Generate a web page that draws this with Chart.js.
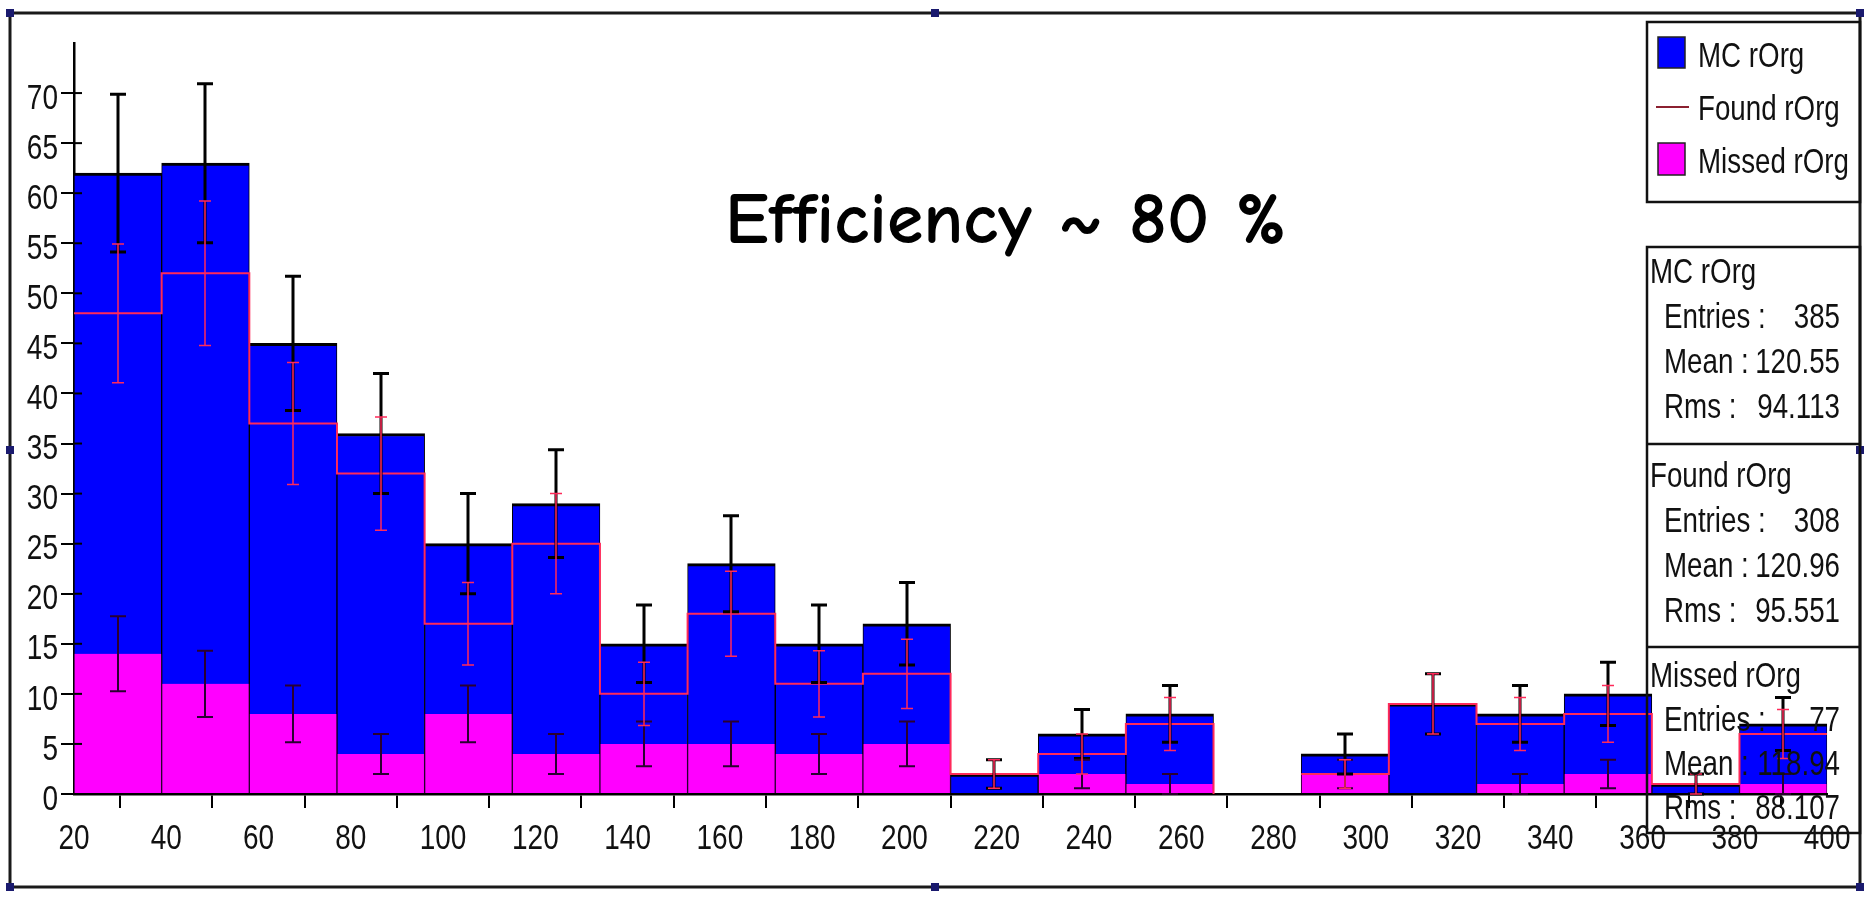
<!DOCTYPE html>
<html>
<head>
<meta charset="utf-8">
<title>rOrg</title>
<script src="https://cdn.jsdelivr.net/npm/chart.js@4.4.1/dist/chart.umd.min.js"></script>
<style>
  html, body { margin: 0; padding: 0; background: #fff; overflow: hidden; }
  canvas { display: block; }
</style>
</head>
<body>
<canvas id="histo" width="1865" height="899"></canvas>
<script>
// histogram bins: 20 bins of width 19 from 20 to 400
const binLow = [20, 39, 58, 77, 96, 115, 134, 153, 172, 191, 210, 229, 248, 267, 286, 305, 324, 343, 362, 381];
const binWidth = 19;

const mcCounts     = [62, 63, 45, 36, 25, 29, 15, 23, 15, 17, 2, 6, 8, 0, 4, 9, 8, 10, 1, 7];
const foundCounts  = [48, 52, 37, 32, 17, 25, 10, 18, 11, 12, 2, 4, 7, 0, 2, 9, 7, 8, 1, 6];
const missedCounts = [14, 11, 8, 4, 8, 4, 5, 5, 4, 5, 0, 2, 1, 0, 2, 0, 1, 2, 0, 1];

const seriesNames = ['MC rOrg', 'Found rOrg', 'Missed rOrg'];
const statEntries = ['385', '308', '77'];
const statMean    = ['120.55', '120.96', '118.94'];
const statRms     = ['94.113', '95.551', '88.107'];

const titleText = 'Efficiency ~ 80 %';

const SANS = "'Liberation Sans', Arial, sans-serif";
const BLUE = '#0000ff';
const MAGENTA = '#ff00ff';
const RED = '#ff2a5a';

// narrow text: the plain sans squeezed horizontally
function narrowText(ctx, text, x, y, align, squeeze) {
    const w = ctx.measureText(text).width * squeeze;
    let left = x;
    if (align === 'right') left = x - w;
    if (align === 'center') left = x - w / 2;
    ctx.save();
    ctx.textAlign = 'left';
    ctx.translate(left, y);
    ctx.scale(squeeze, 1);
    ctx.fillText(text, 0, 0);
    ctx.restore();
}

// white page, outer frame and the little selection handles
const framePlugin = {
    id: 'frame',
    beforeDraw(chart) {
        const ctx = chart.ctx;
        ctx.save();
        ctx.fillStyle = '#fff';
        ctx.fillRect(0, 0, chart.width, chart.height);
        ctx.restore();
    },
    afterDraw(chart) {
        const ctx = chart.ctx;
        ctx.save();
        ctx.strokeStyle = '#1a1a1a';
        ctx.lineWidth = 3;
        ctx.strokeRect(10, 13, 1850, 874);
        ctx.fillStyle = '#1a1a6e';
        const hx = [10, 935, 1860], hy = [13, 450, 887];
        hx.forEach(x => hy.forEach(y => {
            if (x === 935 && y === 450) return;
            ctx.fillRect(x - 4, y - 4, 8, 8);
        }));
        ctx.restore();
    }
};

// condensed tick labels, placed from the scales' own ticks
const tickLabelPlugin = {
    id: 'tickLabels',
    afterDraw(chart) {
        const ctx = chart.ctx;
        const xs = chart.scales.x, ys = chart.scales.y;
        ctx.save();
        ctx.fillStyle = '#111';
        ctx.font = '35px ' + SANS;
        ctx.textBaseline = 'middle';
        xs.ticks.forEach(t => {
            narrowText(ctx, String(t.value), xs.getPixelForValue(t.value), 839, 'center', 0.8);
        });
        ctx.strokeStyle = '#000';
        ctx.lineWidth = 2;
        ys.ticks.forEach(t => {
            const y = ys.getPixelForValue(t.value);
            narrowText(ctx, String(t.value), ys.right - 16, y + 6, 'right', 0.8);
            ctx.beginPath();
            ctx.moveTo(ys.right, y);
            ctx.lineTo(ys.right + 8, y);
            ctx.stroke();
        });
        ctx.restore();
    }
};

// sqrt(N) error bars at the bin centres
const errorBarPlugin = {
    id: 'errorBars',
    afterDatasetsDraw(chart) {
        const xs = chart.scales.x, ys = chart.scales.y;
        const ctx = chart.ctx;
        const sets = [
            { counts: mcCounts, color: '#000', width: 3, cap: 16 },
            { counts: missedCounts, color: '#2a0030', width: 2, cap: 16 },
            { counts: foundCounts, color: RED, width: 1.5, cap: 12 }
        ];
        ctx.save();
        sets.forEach(s => {
            ctx.strokeStyle = s.color;
            ctx.lineWidth = s.width;
            s.counts.forEach((n, i) => {
                if (n <= 0) return;
                const err = Math.sqrt(n);
                const x = Math.round(xs.getPixelForValue(binLow[i] + binWidth / 2));
                const yTop = ys.getPixelForValue(n + err);
                const yBot = ys.getPixelForValue(Math.max(n - err, 0));
                ctx.beginPath();
                ctx.moveTo(x, yTop);
                ctx.lineTo(x, yBot);
                ctx.moveTo(x - s.cap / 2, yTop);
                ctx.lineTo(x + s.cap / 2, yTop);
                ctx.moveTo(x - s.cap / 2, yBot);
                ctx.lineTo(x + s.cap / 2, yBot);
                ctx.stroke();
            });
        });
        ctx.restore();
    }
};

// legend box, statistics box and the big annotation
const boxesPlugin = {
    id: 'boxes',
    afterDraw(chart) {
        const ctx = chart.ctx;
        const ds = chart.data.datasets;
        ctx.save();

        ctx.font = '35px ' + SANS;
        const sq = 151 / ctx.measureText('Missed rOrg').width;
        ctx.textBaseline = 'middle';

        // legend
        ctx.strokeStyle = '#111';
        ctx.lineWidth = 2.5;
        ctx.strokeRect(1647, 22, 213, 180);

        ctx.fillStyle = ds[0].backgroundColor;
        ctx.fillRect(1658, 37, 27, 31);
        ctx.lineWidth = 1.5;
        ctx.strokeStyle = '#222';
        ctx.strokeRect(1658, 37, 27, 31);
        ctx.fillStyle = '#111';
        narrowText(ctx, ds[0].label, 1698, 57, 'left', sq);

        ctx.strokeStyle = '#8b2030';
        ctx.lineWidth = 2;
        ctx.beginPath();
        ctx.moveTo(1656, 107);
        ctx.lineTo(1689, 107);
        ctx.stroke();
        narrowText(ctx, ds[2].label, 1698, 110, 'left', sq);

        ctx.fillStyle = ds[1].backgroundColor;
        ctx.fillRect(1658, 143, 27, 32);
        ctx.strokeStyle = '#222';
        ctx.lineWidth = 1.5;
        ctx.strokeRect(1658, 143, 27, 32);
        ctx.fillStyle = '#111';
        narrowText(ctx, ds[1].label, 1698, 163, 'left', sq);

        // statistics
        ctx.strokeStyle = '#111';
        ctx.lineWidth = 2.5;
        ctx.strokeRect(1647, 247, 213, 586);
        ctx.beginPath();
        ctx.moveTo(1647, 444);
        ctx.lineTo(1860, 444);
        ctx.moveTo(1647, 647);
        ctx.lineTo(1860, 647);
        ctx.stroke();

        const sectionTop = [273, 477, 677];
        const rowGap = [45, 45, 44];
        seriesNames.forEach((name, k) => {
            const y0 = sectionTop[k], g = rowGap[k];
            narrowText(ctx, name, 1650, y0, 'left', sq);
            narrowText(ctx, 'Entries :', 1664, y0 + g, 'left', sq);
            narrowText(ctx, 'Mean :', 1664, y0 + 2 * g, 'left', sq);
            narrowText(ctx, 'Rms :', 1664, y0 + 3 * g, 'left', sq);
            narrowText(ctx, statEntries[k], 1840, y0 + g, 'right', sq);
            narrowText(ctx, statMean[k], 1840, y0 + 2 * g, 'right', sq);
            narrowText(ctx, statRms[k], 1840, y0 + 3 * g, 'right', sq);
        });

        // annotation
        ctx.fillStyle = '#000';
        ctx.textAlign = 'left';
        ctx.textBaseline = 'alphabetic';
        ctx.font = "bold 72px 'Comic Sans MS', 'Comic Neue', Lato, 'Open Sans', sans-serif";
        const w = ctx.measureText(titleText).width;
        ctx.translate(725, 243);
        ctx.scale(561 / w, 1);
        ctx.fillText(titleText, 0, 0);

        ctx.restore();
    }
};

// found histogram as a step outline through the bin edges
const foundPoints = binLow.map((x, i) => ({ x: x, y: foundCounts[i] }));
foundPoints.push({ x: binLow[binLow.length - 1] + binWidth, y: foundCounts[foundCounts.length - 1] });

const chart = new Chart(document.getElementById('histo'), {
    type: 'bar',
    data: {
        datasets: [
            {
                label: seriesNames[0],
                data: binLow.map((x, i) => ({ x: x + binWidth / 2, y: mcCounts[i] })),
                backgroundColor: BLUE,
                borderColor: '#000',
                borderWidth: { top: 3, left: 1, right: 1, bottom: 0 },
                borderSkipped: false,
                grouped: false,
                barPercentage: 1,
                categoryPercentage: 1,
                order: 3
            },
            {
                label: seriesNames[2],
                data: binLow.map((x, i) => ({ x: x + binWidth / 2, y: missedCounts[i] })),
                backgroundColor: MAGENTA,
                borderColor: '#2a0030',
                borderWidth: { top: 0, left: 1, right: 1, bottom: 0 },
                borderSkipped: false,
                grouped: false,
                barPercentage: 1,
                categoryPercentage: 1,
                order: 2
            },
            {
                type: 'line',
                label: seriesNames[1],
                data: foundPoints,
                borderColor: RED,
                borderWidth: 2,
                stepped: 'before',
                pointRadius: 0,
                fill: false,
                // an empty bin leaves the axis line uncovered
                segment: {
                    borderColor: c => c.p0.parsed.y === 0 ? 'rgba(0,0,0,0)' : RED
                },
                order: 1
            }
        ]
    },
    options: {
        responsive: false,
        animation: false,
        devicePixelRatio: 1,
        layout: { padding: { left: 0, top: 43, right: 34, bottom: 0 } },
        plugins: {
            legend: { display: false },
            tooltip: { enabled: false },
            title: { display: false }
        },
        scales: {
            x: {
                type: 'linear',
                min: 20,
                max: 400,
                offset: false,
                border: { display: true, color: '#000', width: 2.5 },
                grid: { drawOnChartArea: false, drawTicks: true, tickLength: 14, color: '#000', lineWidth: 2 },
                ticks: {
                    stepSize: 20,
                    padding: 12,
                    color: 'rgba(0,0,0,0)',
                    font: { family: SANS, size: 31 },
                    maxRotation: 0,
                    autoSkip: false
                },
                afterFit: scale => { scale.height = 105; }
            },
            y: {
                min: 0,
                max: 75,
                border: { display: true, color: '#000', width: 2.5 },
                grid: { drawOnChartArea: false, drawTicks: true, tickLength: 13, color: '#000', lineWidth: 2 },
                ticks: {
                    stepSize: 5,
                    padding: 3,
                    color: 'rgba(0,0,0,0)',
                    font: { family: SANS, size: 31 }
                },
                afterBuildTicks: scale => { scale.ticks = scale.ticks.filter(t => t.value <= 70); },
                afterFit: scale => { scale.width = 74; }
            }
        }
    },
    plugins: [framePlugin, errorBarPlugin, tickLabelPlugin, boxesPlugin]
});
</script>
</body>
</html>
